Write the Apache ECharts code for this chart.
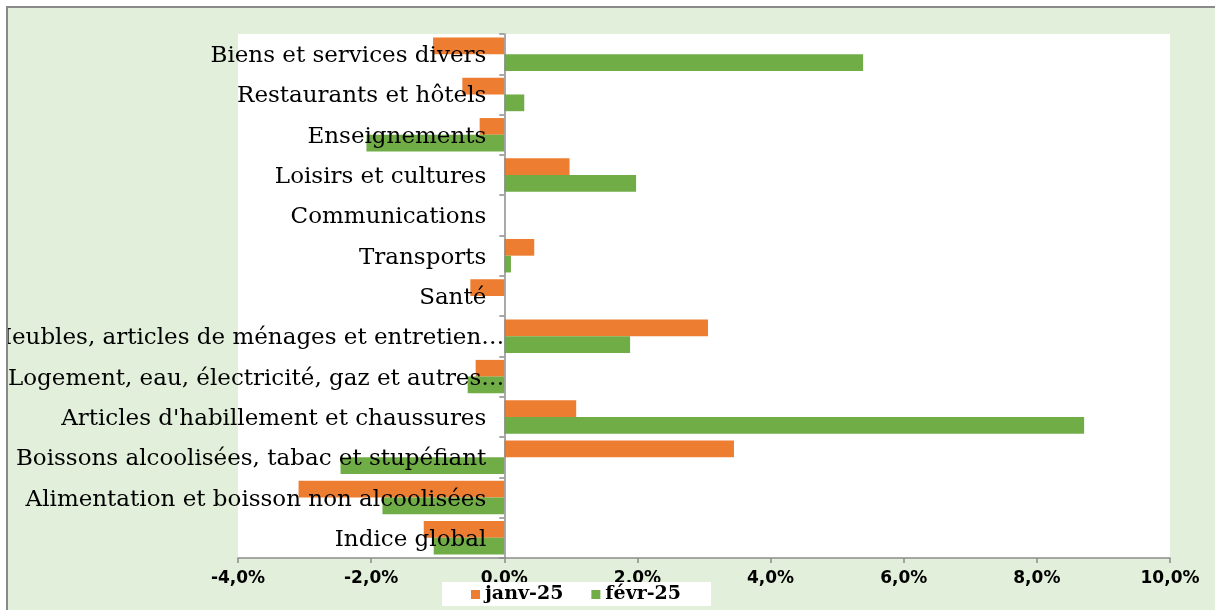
<!DOCTYPE html>
<html>
<head>
<meta charset="utf-8">
<script src="https://cdn.jsdelivr.net/npm/echarts@6/dist/echarts.min.js"></script>
<style>
html,body{margin:0;padding:0;background:#fff;overflow:hidden;}
#frame{position:absolute;left:6px;top:6px;width:1209px;height:604px;border-left:2px solid #8a8a8a;border-top:2px solid #8a8a8a;background:#E2EFDA;overflow:hidden;}
#chart{position:absolute;left:0;top:0;width:1209px;height:604px;}
</style>
</head>
<body>
<div id="frame"><div id="chart"></div></div>
<script>
const categories = [
  "Biens et services divers",
  "Restaurants et hôtels",
  "Enseignements",
  "Loisirs et cultures",
  "Communications",
  "Transports",
  "Santé",
  "Meubles, articles de ménages et entretien…",
  "Logement, eau, électricité, gaz et autres…",
  "Articles d'habillement et chaussures",
  "Boissons alcoolisées, tabac et stupéfiant",
  "Alimentation et boisson non alcoolisées",
  "Indice global"
];
const seriesNames = ["janv-25", "févr-25"];
const janv = [-1.07, -0.63, -0.37, 0.98, 0, 0.45, -0.51, 3.06, -0.43, 1.08, 3.45, -3.09, -1.21];
const fevr = [5.39, 0.30, -2.07, 1.98, 0, 0.10, 0, 1.89, -0.55, 8.71, -2.46, -1.83, -1.06];
const xTickLabels = ["-4,0%", "-2,0%", "0.0%", "2,0%", "4,0%", "6,0%", "8,0%", "10,0%"];
const xMin = -4, xMax = 10, xStep = 2;

const W = 1209, GL = 230, GR = 47;
const zeroOffset = (W - GL - GR) * (0 - xMin) / (xMax - xMin);

const chart = echarts.init(document.getElementById('chart'), null, {renderer: 'canvas'});
chart.setOption({
  animation: false,
  backgroundColor: 'transparent',
  grid: {left: GL, right: GR, top: 26, bottom: 54, show: true, backgroundColor: '#ffffff', borderWidth: 0, containLabel: false, outerBoundsMode: 'none'},
  legend: {
    data: seriesNames,
    left: 434, top: 574,
    backgroundColor: '#ffffff',
    padding: [3, 30, 2, 29],
    itemGap: 28,
    itemWidth: 9, itemHeight: 9,
    icon: 'rect',
    textStyle: {fontFamily: 'DejaVu Serif', fontWeight: 'bold', fontSize: 19, color: '#000'}
  },
  xAxis: {
    type: 'value', min: xMin, max: xMax, interval: xStep,
    splitLine: {show: false},
    axisLine: {show: true, lineStyle: {color: '#8c8c8c', width: 1.5}},
    axisTick: {show: true, length: 5, lineStyle: {color: '#8c8c8c', width: 1.5}},
    axisLabel: {
      margin: 12,
      fontFamily: 'DejaVu Sans', fontWeight: 'bold', fontSize: 17, color: '#000',
      formatter: function (v) { return xTickLabels[Math.round((v - xMin) / xStep)]; }
    }
  },
  yAxis: {
    type: 'category', data: categories, inverse: true, z: 5,
    position: 'left', offset: -zeroOffset,
    axisLine: {show: true, onZero: false, lineStyle: {color: '#8c8c8c', width: 1.5}},
    axisTick: {show: true, length: 5, lineStyle: {color: '#8c8c8c', width: 1.5}},
    axisLabel: {
      margin: 0,
      fontFamily: 'DejaVu Serif', fontSize: 23, color: '#000',
      formatter: function (v) { return v.endsWith('…') ? '{e|' + v + '}' : '{n|' + v + '}'; },
      rich: {
        n: {fontFamily: 'DejaVu Serif', fontSize: 23, color: '#000', padding: [4, 18, 0, 0]},
        e: {fontFamily: 'DejaVu Serif', fontSize: 23, color: '#000', padding: [4, 0, 0, 0]}
      }
    }
  },
  series: [
    {name: seriesNames[0], type: 'bar', data: janv, itemStyle: {color: '#ED7D31'}, barGap: '0%', barCategoryGap: '17%'},
    {name: seriesNames[1], type: 'bar', data: fevr, itemStyle: {color: '#70AD47'}, barGap: '0%', barCategoryGap: '17%'}
  ]
});
</script>
</body>
</html>
